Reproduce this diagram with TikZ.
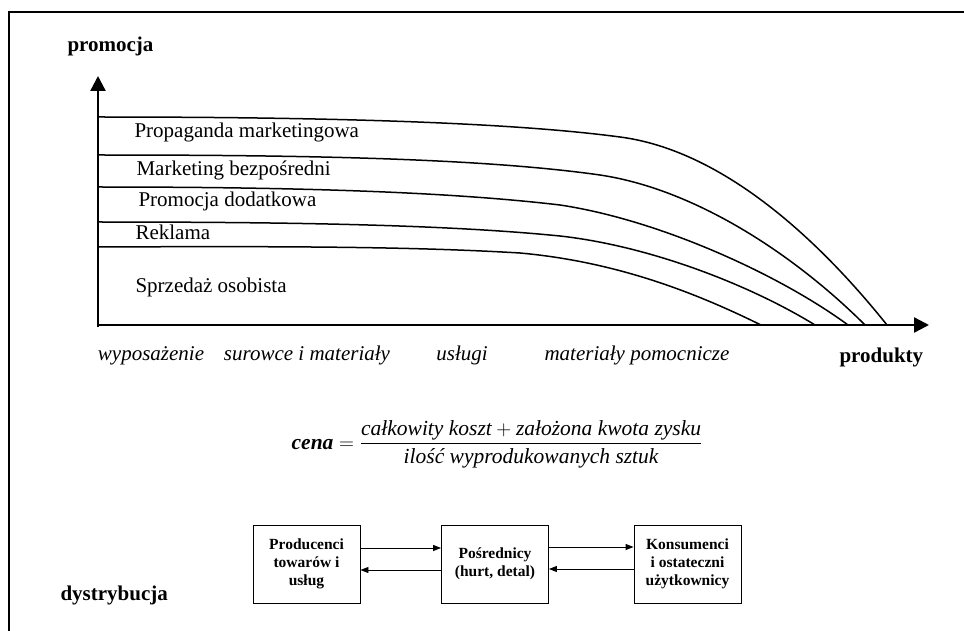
\documentclass[tikz,border=0pt]{standalone}
\usepackage{amsmath}
\usepackage{fontspec}
\setmainfont{Liberation Serif}
\usetikzlibrary{arrows.meta, positioning}

\begin{document}
\begin{tikzpicture}[
    x=1pt, y=-1pt,
    frame/.style={line width=1.8pt},
    axis/.style={line width=2.4pt, -{Triangle[length=15pt, width=15pt]}},
    bound/.style={line width=1.5pt},
    lbl/.style={anchor=base west, font=\fontsize{21}{25}\selectfont},
    cat/.style={anchor=base, font=\fontsize{21}{25}\selectfont\itshape},
    head/.style={anchor=base west, font=\fontsize{21}{25}\selectfont\bfseries},
    stage/.style={draw, line width=0.9pt, minimum width=107pt, minimum height=78pt,
        align=center, font=\fontsize{15.5}{18}\selectfont\bfseries},
    flow/.style={line width=0.9pt, -{Triangle[length=8pt, width=6pt]}},
]
\useasboundingbox (0,0) rectangle (964,631);

% frame: top and left edge only
\draw[frame] (9,631) -- (9,12) -- (964,12);

% =============================================
% PROMOCJA – mix of promotion tools
% =============================================
\node[head] (promocja) at (64,52) {promocja};

\coordinate (O) at (98,325);
\draw[axis] (98,327) -- (98,76);
\draw[axis] (O) -- (929,325);

% boundaries between the tools
\draw[bound] (98,117) .. controls (300,117) and (500,121) .. (620,137)
    .. controls (720,150) and (815,235) .. (887,325);
\draw[bound] (98,155) .. controls (300,155) and (480,158) .. (600,175)
    .. controls (700,190) and (800,260) .. (865,325);
\draw[bound] (98,187) .. controls (300,187) and (450,192) .. (560,205)
    .. controls (660,220) and (780,275) .. (848,325);
\draw[bound] (98,222) .. controls (300,222) and (450,225) .. (560,236)
    .. controls (650,246) and (750,285) .. (815,325);
\draw[bound] (98,247) .. controls (300,246) and (420,247) .. (520,253)
    .. controls (620,262) and (700,295) .. (761,325);

% tool labels
\node[lbl] (propaganda) at (131,138) {Propaganda marketingowa};
\node[lbl] (direct) at (133,176) {Marketing bezpośredni};
\node[lbl] (dodatkowa) at (135,207) {Promocja dodatkowa};
\node[lbl] (reklama) at (132,240) {Reklama};
\node[lbl] (sprzedaz) at (132,292) {Sprzedaż osobista};

% product categories
\node[cat] (wyposazenie) at (151,360) {wyposażenie};
\node[cat] (surowce) at (307,360) {surowce i materiały};
\node[cat] (uslugi) at (462,360) {usługi};
\node[cat] (pomocnicze) at (637,360) {materiały pomocnicze};
\node[head] (produkty) at (836,362) {produkty};

% =============================================
% CENA – price formula
% =============================================
\node[font=\fontsize{21.5}{26}\selectfont] (cena) at (497,444)
  {$\textbf{\textit{cena}} = \dfrac{\textit{całkowity koszt} + \textit{założona kwota zysku}}{\textit{ilość wyprodukowanych sztuk}}$};

% =============================================
% DYSTRYBUCJA – distribution channel
% =============================================
\node[head] (dystrybucja) at (57,600) {dystrybucja};

\node[stage] (producenci) at (306.5,564) {Producenci\\towarów i\\usług};
\node[stage] (posrednicy) at (495,564) {Pośrednicy\\(hurt, detal)};
\node[stage] (konsumenci) at (687.5,564) {Konsumenci\\i ostateczni\\użytkownicy};

\draw[flow] ([yshift=16pt]producenci.east) -- ([yshift=16pt]posrednicy.west);
\draw[flow] ([yshift=-6pt]posrednicy.west) -- ([yshift=-6pt]producenci.east);
\draw[flow] ([yshift=17pt]posrednicy.east) -- ([yshift=17pt]konsumenci.west);
\draw[flow] ([yshift=-5pt]konsumenci.west) -- ([yshift=-5pt]posrednicy.east);

\end{tikzpicture}
\end{document}
